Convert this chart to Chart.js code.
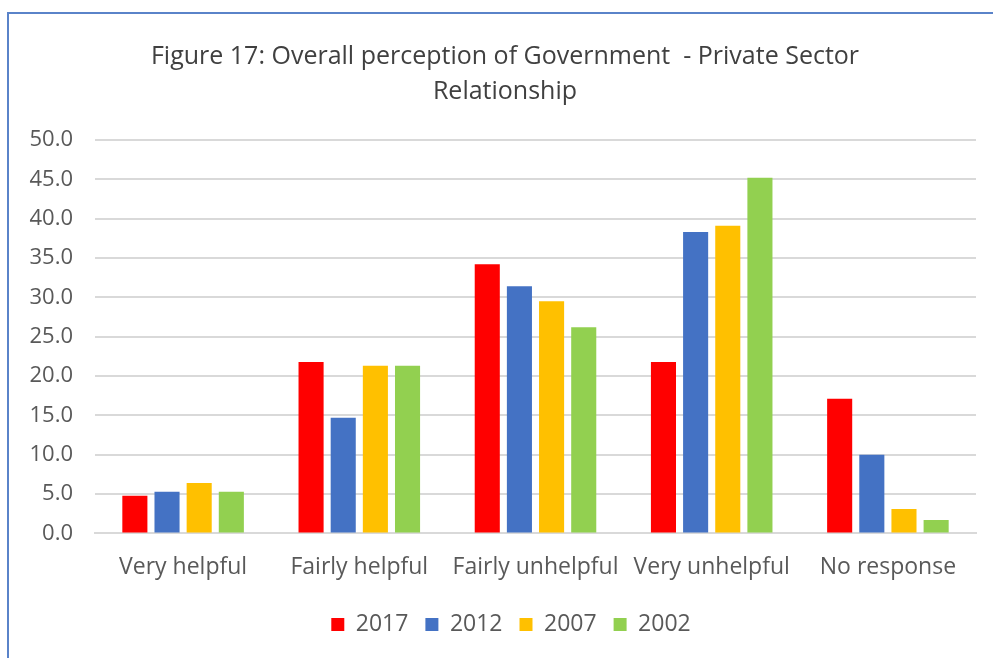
<!DOCTYPE html>
<html>
<head>
<meta charset="utf-8">
<script src="https://cdn.jsdelivr.net/npm/chart.js@4"></script>
<style>
  html, body { margin:0; padding:0; background:#fff; }
  #wrap { position:absolute; left:0; top:0; width:993px; height:658px; }
  #frame { position:absolute; left:7px; top:12px; width:1000px; height:660px;
           border-left:2px solid #5a83c9; border-top:2px solid #5a83c9; pointer-events:none; }
</style>
</head>
<body>
<div id="wrap"><canvas id="chart"></canvas></div>
<div id="frame"></div>
<script>
// survey responses (%), one array per survey year
const categories = ["Very helpful","Fairly helpful","Fairly unhelpful","Very unhelpful","No response"];
const years = ["2017","2012","2007","2002"];
const v2017 = [4.8, 21.8, 34.2, 21.8, 17.1];
const v2012 = [5.3, 14.7, 31.4, 38.3, 10.0];
const v2007 = [6.4, 21.3, 29.5, 39.1, 3.1];
const v2002 = [5.3, 21.3, 26.2, 45.2, 1.7];
const colors = ["#ff0000","#4472c4","#ffc000","#92d050"];

const FONT = "'Open Sans', Lato, sans-serif";
const series = [v2017, v2012, v2007, v2002];

// nudge title and legend so they centre over the plot rather than the canvas
const shiftBlocks = {
  id: "shiftBlocks",
  afterLayout(chart) {
    const t = chart.titleBlock, l = chart.legend;
    t.left += 17; t.right += 17;
    l.left += 23; l.right += 23;
  }
};

const ctx = document.getElementById("chart").getContext("2d");
new Chart(ctx, {
  type: "bar",
  data: {
    labels: categories,
    datasets: series.map((d, i) => ({
      label: years[i],
      data: d,
      backgroundColor: colors[i],
      borderWidth: 0,
      categoryPercentage: 0.73,
      barPercentage: 0.78
    }))
  },
  options: {
    responsive: true,
    maintainAspectRatio: false,
    animation: false,
    layout: { padding: { left: 0, right: 17, top: 0, bottom: 12 } },
    plugins: {
      title: {
        display: true,
        text: ["Figure 17: Overall perception of Government  - Private Sector", "Relationship"],
        color: "#404040",
        font: { family: FONT, size: 25, weight: "normal", lineHeight: 1.4 },
        padding: { top: 39, bottom: 31 }
      },
      legend: {
        position: "bottom",
        labels: {
          color: "#595959",
          font: { family: FONT, size: 23 },
          boxWidth: 13, boxHeight: 13,
          padding: 17
        }
      },
      tooltip: { enabled: false }
    },
    scales: {
      x: {
        afterFit: s => { s.height += 3; },
        grid: { display: false },
        border: { color: "#d9d9d9", width: 2 },
        ticks: { color: "#595959", font: { family: FONT, size: 23 }, padding: 12 }
      },
      y: {
        min: 0, max: 50,
        afterFit: s => { s.width = 95; },
        grid: { color: "#d9d9d9", lineWidth: 2, drawTicks: false },
        border: { display: false },
        ticks: {
          stepSize: 5, padding: 22, color: "#595959",
          font: { family: FONT, size: 22 },
          callback: v => v.toFixed(1)
        }
      }
    }
  },
  plugins: [shiftBlocks]
});
</script>
</body>
</html>
